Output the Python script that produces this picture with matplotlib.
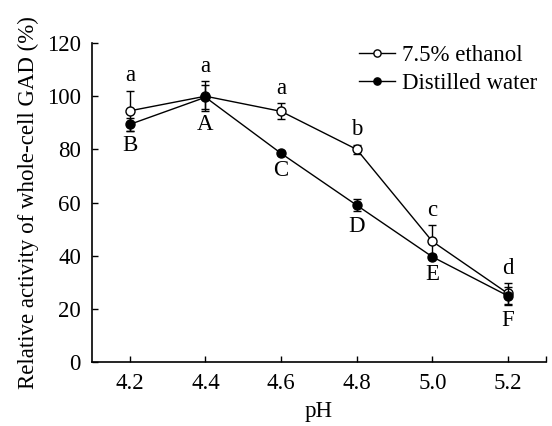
import matplotlib
matplotlib.use('Agg')
import matplotlib.pyplot as plt

plt.rcParams['font.family'] = ['Liberation Serif', 'DejaVu Serif']
plt.rcParams['mathtext.fontset'] = 'stix'

ph = [4.2, 4.4, 4.6, 4.8, 5.0, 5.2]

ethanol = [94.5, 100.0, 94.3, 80.0, 45.4, 25.8]
ethanol_err = [7.5, 5.6, 3.0, 1.7, 6.0, 3.8]
ethanol_letters = ['a', 'a', 'a', 'b', 'c', 'd']

water = [89.4, 99.6, 78.5, 59.0, 39.6, 24.9]
water_err = [2.3, 4.6, 0.8, 2.2, 1.0, 3.5]
water_letters = ['B', 'A', 'C', 'D', 'E', 'F']

fs = 16.5

fig = plt.figure(figsize=(5.52, 4.26), dpi=100)
ax = fig.add_axes([0.1667, 0.150, 0.822, 0.749])

ax.errorbar(ph, ethanol, yerr=ethanol_err, color='black', lw=1.0,
            marker='o', ms=6.5, mfc='white', mec='black', mew=1.0,
            capsize=3, elinewidth=1.0, capthick=1.0,
            label='7.5% ethanol', zorder=3)
ax.errorbar(ph, water, yerr=water_err, color='black', lw=1.0,
            marker='o', ms=6.5, mfc='black', mec='black',
            capsize=3, elinewidth=1.0, capthick=1.0,
            label='Distilled water', zorder=4)

for x, v, e, t in zip(ph, ethanol, ethanol_err, ethanol_letters):
    ax.annotate(t, (x, v + e), xytext=(0, 11), textcoords='offset points',
                ha='center', va='center', fontsize=fs)
for x, v, e, t in zip(ph, water, water_err, water_letters):
    ax.annotate(t, (x, v - e), xytext=(0, -11), textcoords='offset points',
                ha='center', va='center', fontsize=fs)

ax.set_xlim(4.1, 5.3)
ax.set_ylim(0, 120)
ax.set_xticks(ph)
ax.set_xticklabels(['%.1f' % p for p in ph])
ax.set_xticks([5.3], minor=True)
ax.set_yticks(range(0, 121, 20))
ax.tick_params(direction='in', length=4, width=1, labelsize=fs, pad=8)
ax.tick_params(which='minor', direction='in', length=4, width=1)

ax.spines['top'].set_visible(False)
ax.spines['right'].set_visible(False)
ax.spines['left'].set_linewidth(1.2)
ax.spines['bottom'].set_linewidth(1.2)

ax.set_xlabel('pH', fontsize=fs, labelpad=5)
ax.set_ylabel('Relative activity of whole-cell GAD (%)', fontsize=fs, labelpad=6)

handles, labels = ax.get_legend_handles_labels()
handles = [h[0] for h in handles]
ax.legend(handles, labels, loc='upper left', bbox_to_anchor=(0.650, 0.895),
          bbox_transform=fig.transFigure, frameon=False, fontsize=fs,
          handlelength=1.6, handletextpad=0.3, labelspacing=0.3,
          borderpad=0, borderaxespad=0, markerscale=0.8)

fig.savefig('out.png', dpi=100)
